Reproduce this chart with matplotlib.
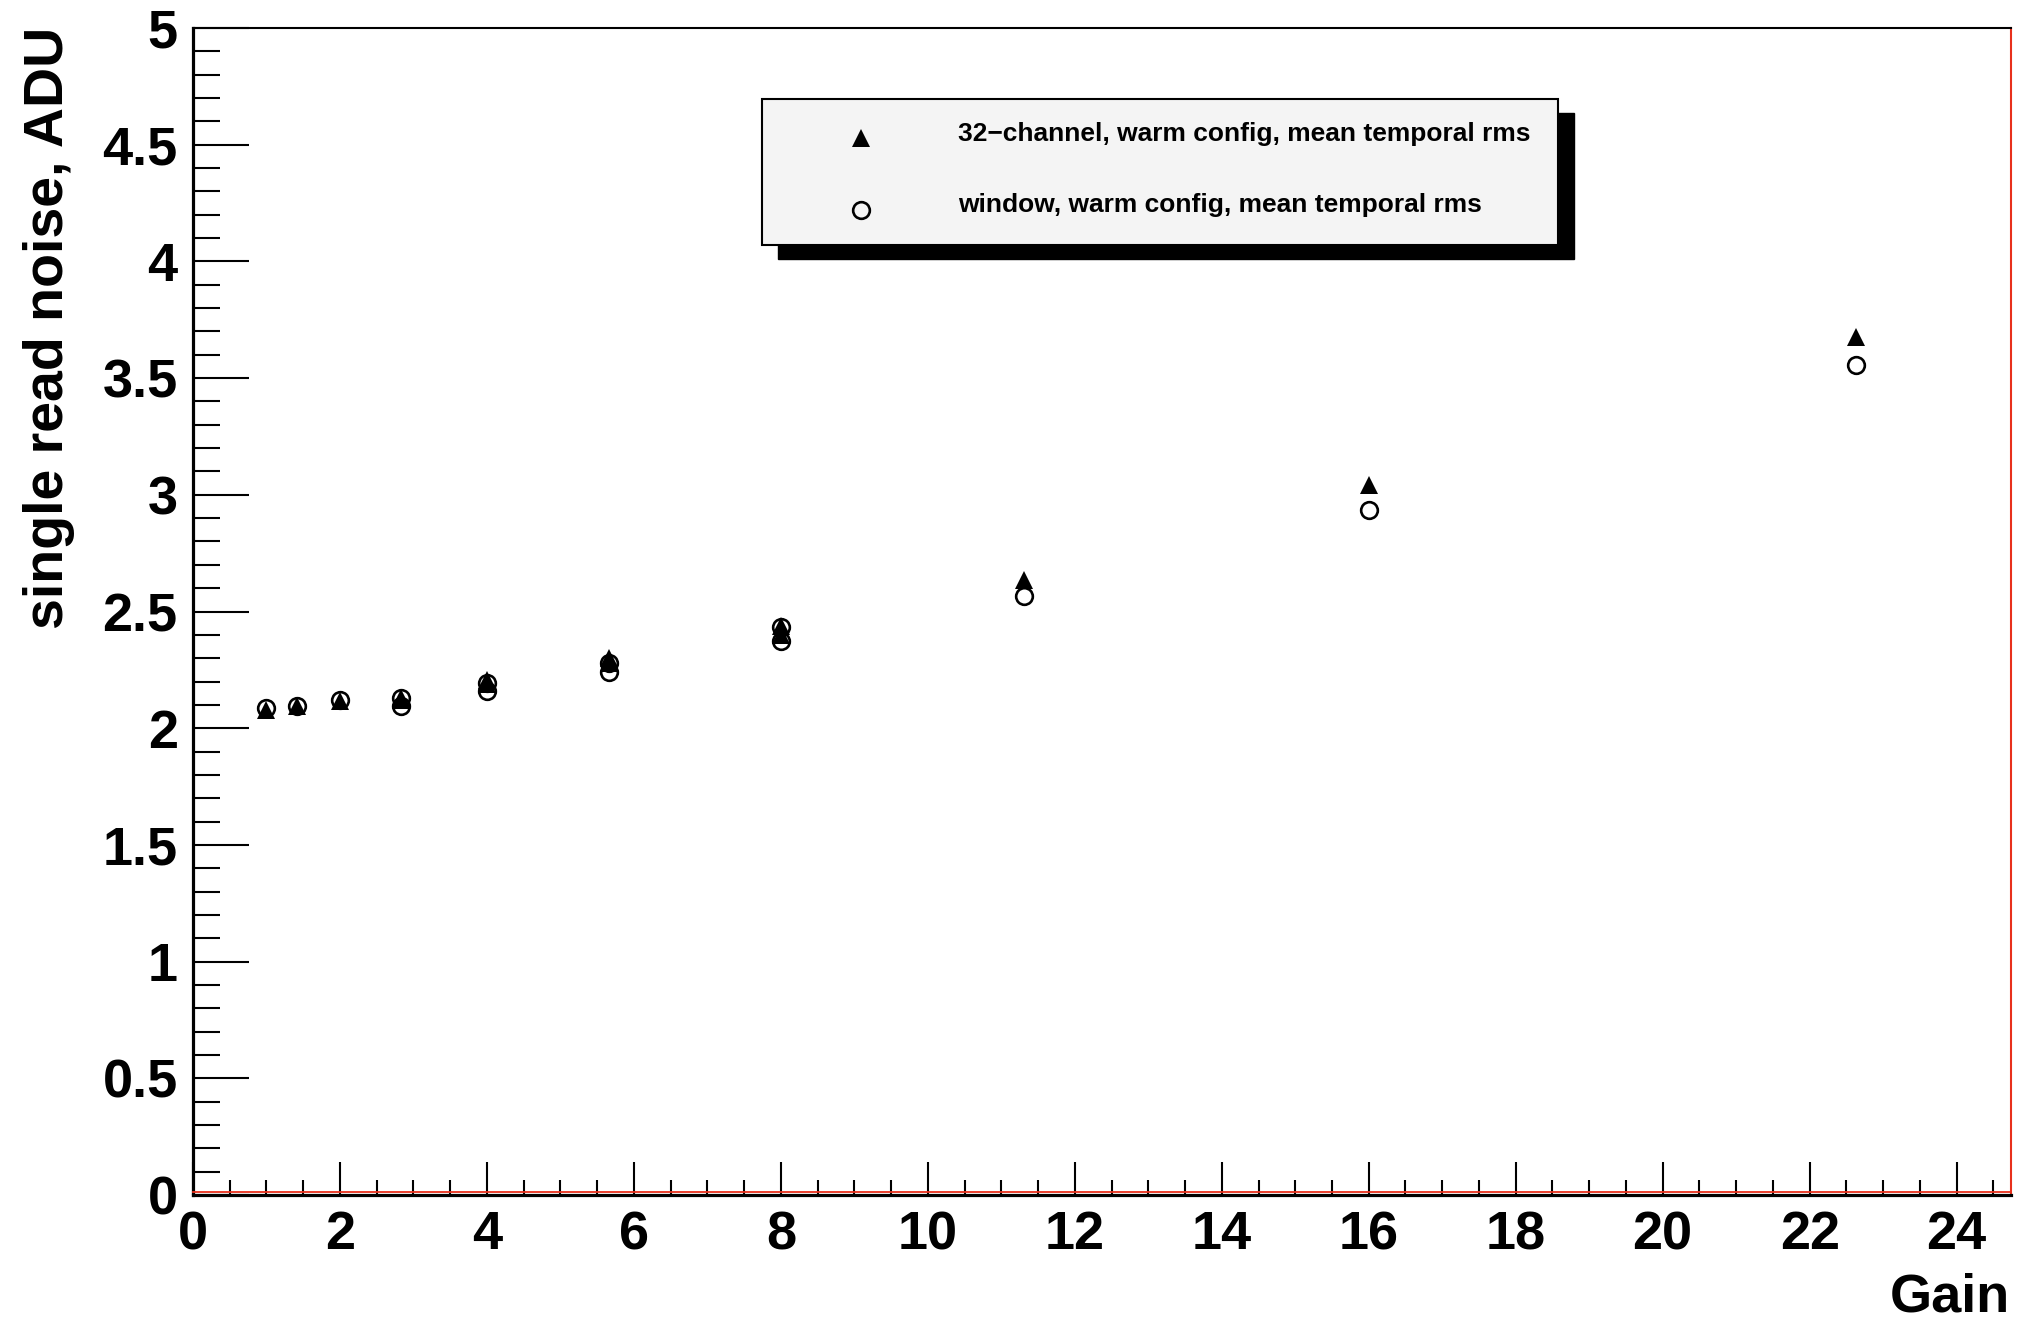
import matplotlib
matplotlib.use("Agg")
import matplotlib.pyplot as plt
from matplotlib.patches import Rectangle
from matplotlib.lines import Line2D
from matplotlib.ticker import MultipleLocator, FormatStrFormatter
import matplotlib.transforms as mtransforms

plt.rcParams["font.family"] = ["Liberation Sans", "DejaVu Sans"]
plt.rcParams["font.weight"] = "bold"

# Measured read noise vs. gain setting
gain_32ch = [1.0, 1.414, 2.0, 2.828, 2.828, 4.0, 4.0, 5.657, 5.657, 8.0, 8.0, 11.31, 16.0, 22.63]
noise_32ch = [2.08, 2.094, 2.115, 2.13, 2.12, 2.205, 2.19, 2.30, 2.28, 2.44, 2.40, 2.637, 3.04, 3.676]

gain_window = [1.0, 1.414, 2.0, 2.828, 2.828, 4.0, 4.0, 5.657, 5.657, 8.0, 8.0, 11.31, 16.0, 22.63]
noise_window = [2.087, 2.095, 2.12, 2.13, 2.095, 2.195, 2.16, 2.28, 2.24, 2.432, 2.374, 2.566, 2.933, 3.556]

label_32ch = "32\u2212channel, warm config, mean temporal rms"
label_window = "window, warm config, mean temporal rms"

W, H = 2019, 1321
fig = plt.figure(figsize=(W / 100, H / 100), dpi=100)
fig.patch.set_facecolor("white")


def fx(px):
    return px / W


def fy(py):
    return 1 - py / H


left, right, top, bottom = 193, 2011, 28, 1195
ax = fig.add_axes([fx(left), fy(bottom), fx(right) - fx(left), fy(top) - fy(bottom)])

tri_kw = dict(marker="^", ms=13, color="black", mew=0, ls="none")
circ_kw = dict(marker="o", ms=12, mfc="none", mec="black", mew=1.9, ls="none")

ax.plot(gain_window, noise_window, **circ_kw, zorder=3)
ax.plot(gain_32ch, noise_32ch, **tri_kw, zorder=4)

ax.set_xlim(0, 24.74)
ax.set_ylim(0, 5)

ax.xaxis.set_major_locator(MultipleLocator(2))
ax.xaxis.set_minor_locator(MultipleLocator(0.5))
ax.yaxis.set_major_locator(MultipleLocator(0.5))
ax.yaxis.set_minor_locator(MultipleLocator(0.1))
ax.yaxis.set_major_formatter(FormatStrFormatter("%g"))
ax.xaxis.set_major_formatter(FormatStrFormatter("%g"))

ax.tick_params(axis="x", which="major", direction="in", length=24, width=1.5,
               labelsize=39, pad=11, top=False)
ax.tick_params(axis="x", which="minor", direction="in", length=11, width=1.5, top=False)
ax.tick_params(axis="y", which="major", direction="in", length=40, width=1.5,
               labelsize=39, pad=11, right=False)
ax.tick_params(axis="y", which="minor", direction="in", length=19.5, width=1.5, right=False)
for lab in ax.get_xticklabels() + ax.get_yticklabels():
    lab.set_fontweight("bold")

for side in ("left", "bottom"):
    ax.spines[side].set_linewidth(2.3)
    ax.spines[side].set_color("black")
ax.spines["top"].set_linewidth(1.5)
ax.spines["top"].set_color("black")
ax.spines["right"].set_linewidth(1.5)
ax.spines["right"].set_color("#e8301c")

# thin red frame line just inside the bottom axis
offset = mtransforms.ScaledTranslation(0, 3 / 100, fig.dpi_scale_trans)
ax.add_line(Line2D([0, 1], [0, 0], transform=ax.transAxes + offset,
                   color="#e8301c", lw=1.3, zorder=5, clip_on=False))

# axis titles
fig.text(fx(2010), fy(1312), "Gain", ha="right", va="baseline",
         fontsize=39, fontweight="bold")
fig.text(fx(49), fy(27), "single read noise, ADU", rotation=90,
         ha="center", va="top", fontsize=40, fontweight="bold")

# legend box with drop shadow
bx0, by0, bx1, by1 = 762, 99, 1558, 245
sdx, sdy = 16, 14
fig.patches.append(Rectangle((fx(bx0 + sdx), fy(by1 + sdy)), fx(bx1) - fx(bx0),
                             fy(by0) - fy(by1), transform=fig.transFigure,
                             facecolor="black", edgecolor="black", zorder=10))
fig.patches.append(Rectangle((fx(bx0), fy(by1)), fx(bx1) - fx(bx0),
                             fy(by0) - fy(by1), transform=fig.transFigure,
                             facecolor="#f4f4f4", edgecolor="black", lw=1.5, zorder=11))

fig.add_artist(Line2D([fx(861)], [fy(138)], transform=fig.transFigure, zorder=12, **tri_kw))
fig.add_artist(Line2D([fx(861)], [fy(210)], transform=fig.transFigure, zorder=12, **circ_kw))
fig.text(fx(958), fy(134), label_32ch, ha="left", va="center",
         fontsize=19, fontweight="bold", zorder=12)
fig.text(fx(958), fy(205), label_window, ha="left", va="center",
         fontsize=19, fontweight="bold", zorder=12)

fig.savefig("out.png", dpi=100, facecolor="white")
